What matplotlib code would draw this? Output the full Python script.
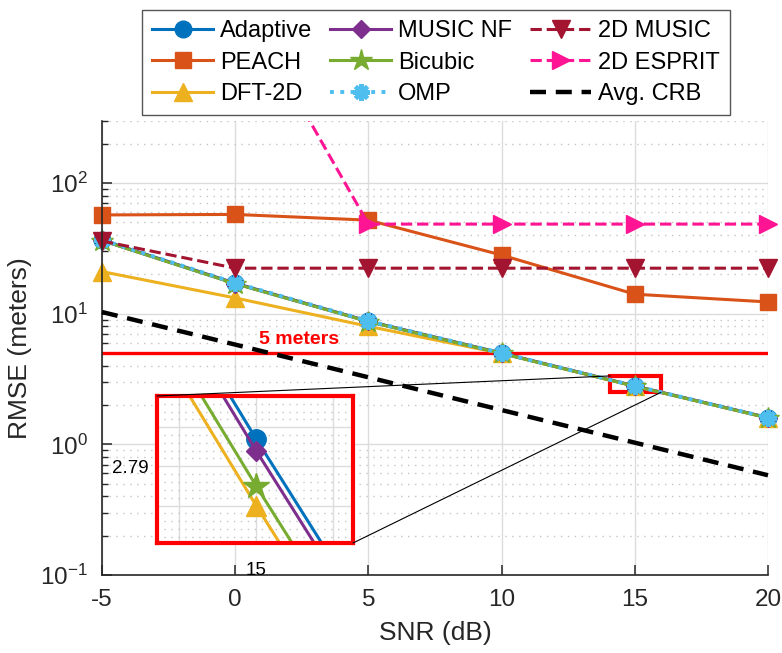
import matplotlib
matplotlib.use("Agg")
import matplotlib.pyplot as plt
from matplotlib.patches import Rectangle, ConnectionPatch
from matplotlib.ticker import FixedLocator, FixedFormatter, NullFormatter

plt.rcParams['font.family'] = ['Liberation Sans', 'DejaVu Sans']
plt.rcParams['axes.unicode_minus'] = False
plt.rcParams['mathtext.fontset'] = 'custom'
plt.rcParams['mathtext.rm'] = 'Liberation Sans'
plt.rcParams['mathtext.it'] = 'Liberation Sans:italic'

# RMSE (m) vs SNR (dB)
snr = [-5, 0, 5, 10, 15, 20]
adaptive = [36.6, 17.1, 8.75, 4.99, 2.797, 1.600]
peach = [57.0, 57.5, 52.0, 28.1, 14.1, 12.3]
dft2d = [21.0, 13.2, 8.0, 4.96, 2.780, 1.590]
music_nf = [36.4, 17.0, 8.73, 4.985, 2.794, 1.598]
bicubic = [36.3, 16.95, 8.70, 4.965, 2.785, 1.593]
omp = [36.8, 17.2, 8.8, 5.0, 2.800, 1.602]
music_2d = [36.0, 22.3, 22.3, 22.3, 22.3, 22.3]
esprit_2d = [4000, 3000, 48.5, 48.5, 48.5, 48.5]
crb = [10.3, 5.8, 3.26, 1.83, 1.03, 0.58]
target = 5

c_adapt = '#0072BD'
c_peach = '#D95319'
c_dft = '#EDB120'
c_mnf = '#7E2F8E'
c_bic = '#77AC30'
c_omp = '#4DBEEE'
c_m2d = '#A2142F'
c_esp = '#FF1493'
axcol = '#262626'

fig = plt.figure(figsize=(7.82, 6.53), dpi=100)
ax = fig.add_axes([102/782, 78/653, 666/782, 454.3/653])

lw = 2.2
ms = 12
ax.axhline(target, color='red', lw=2.4, zorder=1.8)

h_adapt, = ax.plot(snr, adaptive, '-o', color=c_adapt, lw=lw, ms=ms, label='Adaptive', clip_on=False)
h_peach, = ax.plot(snr, peach, '-s', color=c_peach, lw=lw, ms=11, label='PEACH', clip_on=False)
h_dft, = ax.plot(snr, dft2d, '-^', color=c_dft, lw=lw, ms=13, label='DFT-2D', clip_on=False)
h_mnf, = ax.plot(snr, music_nf, '-D', color=c_mnf, lw=lw, ms=9.5, label='MUSIC NF', clip_on=False)
h_bic, = ax.plot(snr, bicubic, '-*', color=c_bic, lw=lw, ms=16, label='Bicubic', clip_on=False)
h_omp, = ax.plot(snr, omp, ':', marker=(8, 2, 0), color=c_omp, lw=2.8, ms=12, mew=3,
                 label='OMP', clip_on=False)
h_m2d, = ax.plot(snr, music_2d, '--v', color=c_m2d, lw=lw, ms=13, label='2D MUSIC', clip_on=False)
h_esp, = ax.plot(snr, esprit_2d, '-->', color=c_esp, lw=lw, ms=13, label='2D ESPRIT')
# let the right-edge marker spill past the frame but keep the top clipped
esp_clip = Rectangle((-0.05, 0), 1.1, 1, transform=ax.transAxes, visible=False)
ax.add_patch(esp_clip)
h_esp.set_clip_path(esp_clip)
h_crb, = ax.plot(snr, crb, '--', color='black', lw=3.2, dashes=(3.6, 2.2), label='Avg. CRB',
                 clip_on=False, zorder=3)

ax.text(2.4, 6.3, '5 meters', color='red', fontsize=14, fontweight='bold',
        ha='center', va='center')

ax.set_yscale('log')
ax.set_xlim(-5, 20)
ax.set_ylim(0.1, 300)
ax.set_xticks(snr)
ax.set_xlabel('SNR (dB)', fontsize=19, color=axcol, labelpad=7)
ax.set_ylabel('RMSE (meters)', fontsize=19, color=axcol, labelpad=6)
ax.tick_params(which='both', direction='in', colors=axcol, labelsize=17.5, top=False, right=False)
ax.tick_params(which='major', length=7, width=1.1, pad=10)
ax.tick_params(which='minor', length=4, width=1.0)
ax.yaxis.set_minor_formatter(NullFormatter())
ax.grid(which='major', color='#dcdcdc', lw=1.0, ls='-')
ax.yaxis.grid(which='minor', color='#c4c4c4', lw=1.0, ls=(0, (1, 4)))
ax.set_axisbelow(True)
for s in ['top', 'right']:
    ax.spines[s].set_visible(False)
for s in ['left', 'bottom']:
    ax.spines[s].set_color(axcol)
    ax.spines[s].set_linewidth(1.2)

# zoom box around SNR = 15 dB
zoom_box = Rectangle((14.08, 2.5), 1.9, 0.84, fill=False, ec='red', lw=3, zorder=1.9)
ax.add_patch(zoom_box)

handles = [h_adapt, h_peach, h_dft, h_mnf, h_bic, h_omp, h_m2d, h_esp, h_crb]
leg = ax.legend(handles=handles, loc='upper left', bbox_to_anchor=(142/782, 1 - 10/653),
                bbox_transform=fig.transFigure, ncol=3, fontsize=17, frameon=True,
                fancybox=False, framealpha=1, edgecolor='#555555', handlelength=2.58,
                handletextpad=0.3, columnspacing=0.75, labelspacing=0.39, borderpad=0.44,
                borderaxespad=0)
leg.get_frame().set_linewidth(1.0)

# inset
axins = fig.add_axes([157/782, 110/653, 196/782, 147/653])
axins.plot(snr, adaptive, '-o', color=c_adapt, lw=lw, ms=14)
axins.plot(snr, dft2d, '-^', color=c_dft, lw=lw, ms=15)
axins.plot(snr, music_nf, '-D', color=c_mnf, lw=lw, ms=10.5)
axins.plot(snr, bicubic, '-*', color=c_bic, lw=lw, ms=19)
axins.set_yscale('log')
axins.set_xlim(14.871, 15.126)
axins.set_ylim(2.7705, 2.808)
axins.xaxis.set_major_locator(FixedLocator([14.9, 15.0, 15.1]))
axins.xaxis.set_major_formatter(FixedFormatter(['', '15', '']))
axins.yaxis.set_major_locator(FixedLocator([2.78, 2.79, 2.80]))
axins.yaxis.set_major_formatter(FixedFormatter(['', '2.79', '']))
axins.yaxis.set_minor_locator(FixedLocator([2.772 + 0.002 * i for i in range(19)]))
axins.yaxis.set_minor_formatter(NullFormatter())
axins.xaxis.set_minor_locator(FixedLocator([]))
axins.tick_params(which='both', length=0, labelsize=13.5, colors='black')
axins.tick_params(axis='x', pad=14)
axins.tick_params(axis='y', pad=6)
axins.grid(which='major', color='#dcdcdc', lw=1.0, ls='-')
axins.yaxis.grid(which='minor', color='#c4c4c4', lw=1.0, ls=(0, (1, 4)))
axins.set_axisbelow(True)
for s in axins.spines.values():
    s.set_color('red')
    s.set_linewidth(3)

con1 = ConnectionPatch(xyA=(0, 1), coordsA=axins.transAxes, xyB=(14.08, 3.34), coordsB=ax.transData,
                       color='black', lw=0.8)
con2 = ConnectionPatch(xyA=(1, 0), coordsA=axins.transAxes, xyB=(15.98, 2.5), coordsB=ax.transData,
                       color='black', lw=0.8)
fig.add_artist(con1)
fig.add_artist(con2)

fig.savefig('out.png', dpi=100)
